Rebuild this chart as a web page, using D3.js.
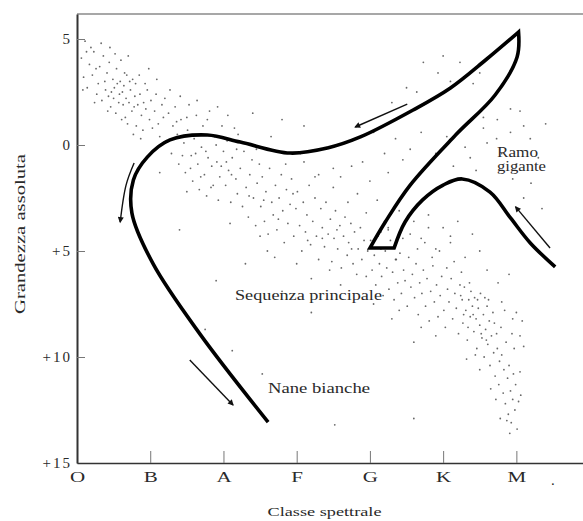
<!DOCTYPE html>
<html>
<head>
<meta charset="utf-8">
<script src="https://cdn.jsdelivr.net/npm/d3@7"></script>
<style>
  html, body { margin: 0; padding: 0; background: #fff; }
  svg { display: block; }
  text { font-family: "Liberation Serif", "Times New Roman", serif; fill: #2a2a2a; }
</style>
</head>
<body>
<svg id="hr" width="583" height="521"></svg>
<script>
// Spectral classes along the x axis (index 0..6), magnitudes along y (bright at top)
const spectralClasses = ["O", "B", "A", "F", "G", "K", "M"];
const magnitudeTicks = [-5, 0, 5, 10, 15];
const magnitudeLabels = ["5", "0", "+5", "+10", "+15"];

// Star field: [spectral index, absolute magnitude]
const hotBright = [[0.06,-4.1],[0.11,-4.9],[0.09,-3.2],[0.17,-3.8],[0.14,-2.7],[0.23,-4.4],[0.21,-3.3],[0.27,-2.4],[0.19,-4.6],[0.31,-3.7],[0.29,-2.9],[0.36,-4.2],[0.34,-2.1],[0.41,-3.4],[0.39,-2.6],[0.44,-3.9],[0.46,-1.8],[0.49,-3.1],[0.43,-2.3],[0.51,-2.7],[0.54,-3.6],[0.57,-2.0],[0.53,-1.5],[0.59,-3.0],[0.62,-2.5],[0.6,-4.0],[0.66,-1.3],[0.64,-2.8],[0.68,-3.3],[0.71,-2.0],[0.69,-1.0],[0.73,-2.6],[0.76,-3.1],[0.75,-1.6],[0.79,-2.3],[0.81,-0.9],[0.83,-1.9],[0.8,-2.9],[0.86,-2.4],[0.88,-1.4],[0.91,-2.0],[0.9,-0.7],[0.94,-1.7],[0.96,-2.6],[0.99,-1.2],[1.01,-2.1],[1.03,-0.8],[1.06,-1.6],[1.08,-2.4],[1.11,-1.0],[1.13,-0.4],[1.16,-1.9],[1.18,-1.3],[0.47,-2.5],[0.58,-2.4],[0.63,-1.9],[0.72,-3.0],[0.55,-2.9],[0.67,-2.2],[0.78,-1.8],[0.85,-3.3],[0.52,-4.3],[0.38,-3.0],[0.26,-3.6],[0.13,-4.4],[0.33,-4.8],[0.45,-4.6],[0.7,-4.2],[0.98,-3.6],[1.09,-3.1],[0.87,-0.3],[0.61,-1.2],[0.42,-1.6],[0.24,-2.0],[0.08,-2.6],[0.93,-2.9],[1.2,-2.2],[0.77,-0.5],[0.65,-3.4],[0.5,-2.2]];
const turnOff = [[1.22,-0.2],[1.25,-1.5],[1.27,-2.6],[1.31,-0.9],[1.29,0.4],[1.34,-1.8],[1.37,-0.5],[1.39,0.9],[1.42,-1.2],[1.41,-2.3],[1.46,-0.1],[1.48,1.3],[1.51,-0.7],[1.53,-1.9],[1.56,0.5],[1.58,1.7],[1.6,-0.3],[1.63,-1.4],[1.65,0.9],[1.67,2.1],[1.7,0.1],[1.72,-0.9],[1.74,1.4],[1.77,2.4],[1.79,0.6],[1.81,-1.6],[1.84,1.0],[1.86,1.9],[1.88,-0.4],[1.91,0.8],[1.93,2.6],[1.95,1.5],[1.98,-0.9],[2.0,0.3],[2.03,1.9],[2.05,-0.2],[2.07,1.2],[2.1,2.7],[2.12,0.6],[2.15,-0.8],[2.17,1.6],[2.19,2.3],[1.44,0.5],[1.55,1.1],[1.62,0.4],[1.69,1.5],[1.76,0.3],[1.83,2.0],[1.9,0.0],[1.97,1.0],[2.04,0.8],[2.11,1.4],[2.18,0.2],[1.36,-1.1],[1.5,-1.3],[1.64,-2.1],[1.78,-1.2],[1.92,-1.8],[2.06,-1.4],[2.2,-0.5]];
const midSequence = [[2.23,1.1],[2.26,2.9],[2.28,0.3],[2.31,2.0],[2.34,3.4],[2.36,1.4],[2.39,0.7],[2.41,2.5],[2.44,3.8],[2.46,1.8],[2.49,0.9],[2.51,2.9],[2.53,1.5],[2.56,3.6],[2.58,2.2],[2.61,4.2],[2.63,1.1],[2.66,2.7],[2.68,3.3],[2.71,1.9],[2.73,4.0],[2.76,2.5],[2.79,1.4],[2.81,3.1],[2.83,4.6],[2.86,2.1],[2.88,3.7],[2.91,2.8],[2.93,1.6],[2.96,4.3],[2.99,3.0],[3.01,2.2],[3.04,3.8],[3.07,5.0],[3.09,2.7],[3.12,4.1],[3.14,3.3],[3.17,1.9],[3.19,4.7],[3.22,3.6],[3.25,2.5],[3.27,4.3],[3.3,5.4],[3.33,3.0],[3.35,3.9],[3.38,4.8],[3.4,2.7],[3.43,4.2],[3.46,3.5],[3.48,5.5],[3.51,4.4],[3.53,3.1],[3.56,4.9],[3.59,3.8],[3.61,5.8],[3.64,4.3],[3.66,3.4],[3.69,5.2],[3.71,4.6],[3.74,3.7],[3.77,5.6],[3.79,4.1],[3.82,6.1],[3.84,4.9],[3.87,3.9],[3.89,5.4],[3.92,4.5],[3.95,6.2],[3.97,5.0],[2.35,2.4],[2.55,2.6],[2.75,3.5],[2.95,2.3],[3.15,4.5],[3.35,4.4],[3.55,4.0],[3.75,4.9],[3.45,5.9],[3.0,5.6],[2.6,5.0],[3.2,6.3],[3.6,6.6],[2.45,0.2],[2.85,0.9],[3.25,1.5],[2.65,-0.4],[3.05,0.4],[3.5,1.1],[2.4,-1.5],[2.8,-1.2],[3.1,-0.9]];
const coolSequence = [[4.01,4.5],[4.03,5.9],[4.06,5.2],[4.08,6.6],[4.11,4.3],[4.13,5.6],[4.16,6.2],[4.18,7.1],[4.21,5.0],[4.23,5.8],[4.26,6.8],[4.28,4.5],[4.31,6.0],[4.33,7.3],[4.36,5.4],[4.38,6.5],[4.41,5.1],[4.43,7.0],[4.46,5.9],[4.48,6.4],[4.51,7.6],[4.53,5.3],[4.56,6.7],[4.58,6.1],[4.61,7.2],[4.63,5.6],[4.66,8.0],[4.68,6.5],[4.71,7.0],[4.73,5.9],[4.76,7.6],[4.78,6.3],[4.81,8.3],[4.83,6.9],[4.86,5.7],[4.88,7.4],[4.91,6.6],[4.93,8.1],[4.96,7.1],[4.98,6.2],[5.01,7.8],[5.03,8.6],[5.06,6.8],[5.08,7.4],[5.11,6.3],[5.13,8.2],[5.16,7.0],[5.18,7.7],[5.21,8.9],[5.23,6.6],[5.26,7.3],[5.28,8.0],[4.25,3.9],[4.45,4.4],[4.65,4.9],[4.85,5.3],[5.05,5.8],[5.25,6.0],[4.15,4.1],[4.35,4.7],[4.55,4.2],[4.75,4.6],[4.95,5.0],[5.15,5.5],[4.4,7.8],[4.7,8.6],[4.9,9.0],[4.3,8.2],[4.6,9.3],[4.05,7.5],[4.2,3.6],[4.5,3.5],[4.8,3.9],[5.1,4.3]];
const redDwarfs = [[5.24,7.1],[5.27,8.4],[5.29,6.7],[5.31,7.8],[5.33,9.2],[5.35,7.3],[5.37,8.1],[5.38,6.9],[5.4,7.6],[5.42,8.8],[5.43,7.2],[5.45,8.2],[5.46,9.6],[5.48,7.7],[5.5,8.5],[5.51,7.0],[5.53,9.1],[5.55,8.0],[5.56,10.0],[5.58,8.7],[5.6,7.6],[5.61,9.4],[5.63,8.3],[5.64,10.4],[5.66,9.0],[5.68,7.9],[5.69,9.8],[5.71,10.9],[5.73,8.9],[5.74,9.6],[5.76,11.3],[5.77,10.2],[5.79,8.6],[5.8,9.9],[5.82,11.7],[5.83,10.6],[5.85,12.2],[5.86,9.3],[5.88,11.0],[5.89,12.7],[5.9,10.4],[5.92,11.6],[5.93,13.1],[5.95,12.0],[5.96,10.8],[5.98,12.5],[5.99,11.3],[6.01,13.4],[6.03,12.1],[6.05,10.7],[5.91,13.6],[5.87,13.0],[5.97,9.6],[6.06,11.8],[5.34,8.6],[5.41,8.0],[5.47,7.3],[5.52,8.9],[5.59,9.2],[5.44,9.9],[5.62,7.3],[5.7,8.4],[5.36,6.5],[5.57,7.2],[5.72,12.0],[5.65,11.5],[5.78,12.9],[5.32,10.1],[5.5,10.6],[6.1,9.5],[6.08,8.3],[6.0,7.9],[5.84,7.8],[5.94,8.9]];
const giants = [[4.73,-3.9],[5.0,-4.2],[4.93,-3.4],[5.1,-3.0],[5.23,-3.9],[5.41,-2.9],[5.5,-3.4],[4.64,-2.5],[4.5,-2.7],[4.3,-2.0],[5.55,-1.3],[5.74,-1.2],[5.92,-1.7],[6.05,-1.6],[5.55,-0.8],[5.73,-0.3],[5.92,-0.6],[5.6,-0.1],[5.37,0.6],[5.14,1.0],[5.3,0.1],[5.45,1.2],[5.8,0.4],[6.1,-0.9],[6.19,-0.3],[6.3,0.6],[6.0,0.9],[4.35,-0.3],[4.55,0.2],[4.7,-0.6],[4.9,0.4],[5.05,-0.4],[4.45,0.7],[4.2,0.4],[4.05,-0.6],[3.9,0.8],[3.6,1.5],[3.83,2.3],[4.0,1.7],[4.1,2.6],[3.95,3.2],[4.25,1.3],[3.7,2.7],[4.4,3.1],[4.6,3.6],[4.8,3.3],[5.0,3.9],[5.2,3.6],[5.4,4.2],[4.7,4.4],[4.9,4.9],[5.1,4.6],[5.3,5.3],[5.5,5.0],[5.6,5.9],[5.75,6.5],[5.8,7.4],[5.95,8.2],[6.05,9.0],[5.9,6.1],[4.25,4.0],[4.15,4.9],[4.35,5.4],[3.3,1.4],[3.5,2.0],[3.1,0.8],[3.75,1.0],[6.2,1.8],[6.35,3.0],[6.1,2.5],[5.95,1.6],[6.4,-1.0]];
const fieldStars = [[1.13,1.3],[1.5,2.2],[2.09,3.7],[2.5,4.3],[1.75,8.7],[2.12,9.7],[2.53,10.8],[3.52,13.2],[2.3,5.6],[1.9,6.4],[2.8,6.9],[3.2,7.9],[4.6,12.9],[3.9,11.6],[1.4,4.0],[2.7,5.3]];

// Evolutionary track: white dwarf end -> turn-off -> giant tip, then back down to the base and up the giant branch
const trackToTip = [[2.61,13.07],[1.68,8.92],[1.04,5.61],[0.75,3.21],[0.77,1.65],[0.96,0.57],[1.27,-0.24],[1.78,-0.47],[2.23,-0.14],[2.91,0.38],[3.42,0.14],[3.87,-0.38],[4.59,-1.65],[5.10,-2.69],[5.58,-4.01],[6.03,-5.33]];
const trackToBase = [[6.03,-5.33],[6.01,-4.15],[5.71,-2.36],[5.17,-0.47],[4.55,1.89],[4.21,3.63],[4.00,4.86]];
const trackBase = [[4.00,4.86],[4.33,4.86]];
const trackGiantBranch = [[4.33,4.86],[4.48,3.63],[4.72,2.59],[5.00,1.89],[5.26,1.60],[5.64,2.22],[5.92,3.44],[6.19,4.62],[6.53,5.75]];

// Direction arrows (tail ... head)
const arrows = [
  [[4.51,-1.93],[3.80,-0.85]],
  [[6.46,4.86],[5.99,2.92]],
  [[0.78,0.85],[0.67,1.89],[0.59,3.63]],
  [[1.54,10.14],[2.13,12.26]]
];

const W = 583, H = 521;
const svg = d3.select("#hr");

const x = d3.scaleLinear().domain([0, 6.91]).range([77, 583]);
const y = d3.scaleLinear().domain([-6.18, 15]).range([14, 463]);

// stretch a text element to a given width
function fitText(sel, width) {
  sel.attr("textLength", width).attr("lengthAdjust", "spacingAndGlyphs");
}

// stars
const stars = [].concat(hotBright, turnOff, midSequence, coolSequence, redDwarfs, giants, fieldStars);
svg.append("g").selectAll("circle").data(stars).join("circle")
  .attr("cx", d => x(d[0]))
  .attr("cy", d => y(d[1]))
  .attr("r", 0.9)
  .attr("fill", "#444")
  .attr("opacity", 0.8);

// frame: top line
svg.append("line")
  .attr("x1", x(0)).attr("x2", W).attr("y1", y.range()[0]).attr("y2", y.range()[0])
  .attr("stroke", "#8a8a8a").attr("stroke-width", 1.6);

// y axis
const yAxis = d3.axisLeft(y)
  .tickValues(magnitudeTicks)
  .tickFormat((d, i) => magnitudeLabels[i])
  .tickSizeInner(-8).tickSizeOuter(0).tickPadding(5);
const gy = svg.append("g").attr("transform", `translate(${x(0)},0)`).call(yAxis);
gy.select(".domain").attr("stroke", "#333").attr("stroke-width", 2);
gy.selectAll(".tick line").attr("stroke", "#777").attr("stroke-width", 1);
gy.selectAll(".tick text")
  .attr("font-family", "Liberation Serif, serif")
  .attr("font-size", 15)
  .attr("fill", "#3a3a3a")
  .style("letter-spacing", "2px");

// x axis
const xAxis = d3.axisBottom(x)
  .tickValues(d3.range(spectralClasses.length))
  .tickFormat((d, i) => spectralClasses[i])
  .tickSizeInner(-12).tickSizeOuter(0).tickPadding(8);
const gx = svg.append("g").attr("transform", `translate(0,${y(15)})`).call(xAxis);
gx.select(".domain").attr("stroke", "#333").attr("stroke-width", 1.6);
gx.selectAll(".tick line").attr("stroke", "#777").attr("stroke-width", 1);
gx.selectAll(".tick text")
  .attr("font-family", "Liberation Serif, serif")
  .attr("font-size", 15)
  .attr("fill", "#2a2a2a")
  .each(function() {
    const w = this.getComputedTextLength();
    d3.select(this).call(fitText, w * 1.4);
  });
gx.select(".tick line").attr("stroke", "none");

// trailing class mark after M
svg.append("text")
  .attr("x", x(6.5)).attr("y", 485)
  .attr("text-anchor", "middle")
  .attr("font-size", 15)
  .text(".");

// axis titles
svg.append("text")
  .attr("transform", `translate(25,234) rotate(-90)`)
  .attr("text-anchor", "middle")
  .attr("font-size", 15)
  .attr("fill", "#333")
  .text("Grandezza assoluta")
  .call(fitText, 160);

svg.append("text")
  .attr("x", 324.5).attr("y", 516)
  .attr("text-anchor", "middle")
  .attr("font-size", 13.5)
  .attr("fill", "#333")
  .text("Classe spettrale")
  .call(fitText, 114);

// region labels
svg.append("text")
  .attr("x", 308.5).attr("y", 300)
  .attr("text-anchor", "middle")
  .attr("font-size", 14)
  .attr("fill", "#333")
  .text("Sequenza principale")
  .call(fitText, 147);

svg.append("text")
  .attr("x", 319).attr("y", 393)
  .attr("text-anchor", "middle")
  .attr("font-size", 14)
  .attr("fill", "#333")
  .text("Nane bianche")
  .call(fitText, 102);

svg.append("text")
  .attr("x", 497).attr("y", 157)
  .attr("font-size", 14)
  .attr("fill", "#333")
  .text("Ramo")
  .call(fitText, 41);

svg.append("text")
  .attr("x", 497).attr("y", 171)
  .attr("font-size", 14)
  .attr("fill", "#333")
  .text("gigante")
  .call(fitText, 49);

// evolutionary track, drawn as one path with sharp corners at the tip and the base
const smooth = d3.line().x(d => x(d[0])).y(d => y(d[1])).curve(d3.curveCatmullRom.alpha(0.5));
const straight = d3.line().x(d => x(d[0])).y(d => y(d[1]));
const segs = [smooth(trackToTip), smooth(trackToBase), straight(trackBase), smooth(trackGiantBranch)];
const trackPath = segs.map((s, i) => i === 0 ? s : "L" + s.slice(1)).join("");
svg.append("path")
  .attr("d", trackPath)
  .attr("fill", "none")
  .attr("stroke", "#000")
  .attr("stroke-width", 3.6)
  .attr("stroke-linejoin", "miter")
  .attr("stroke-miterlimit", 12);

// arrows
svg.append("defs").append("marker")
  .attr("id", "head")
  .attr("viewBox", "0 0 10 10")
  .attr("refX", 8).attr("refY", 5)
  .attr("markerWidth", 7).attr("markerHeight", 6)
  .attr("markerUnits", "userSpaceOnUse")
  .attr("orient", "auto")
  .append("path")
  .attr("d", "M0,0 L10,5 L0,10 Z")
  .attr("fill", "#111");

const arrowLine = d3.line().x(d => x(d[0])).y(d => y(d[1])).curve(d3.curveCatmullRom);
svg.append("g").selectAll("path").data(arrows).join("path")
  .attr("d", arrowLine)
  .attr("fill", "none")
  .attr("stroke", "#111")
  .attr("stroke-width", 1.4)
  .attr("marker-end", "url(#head)");
</script>
</body>
</html>
